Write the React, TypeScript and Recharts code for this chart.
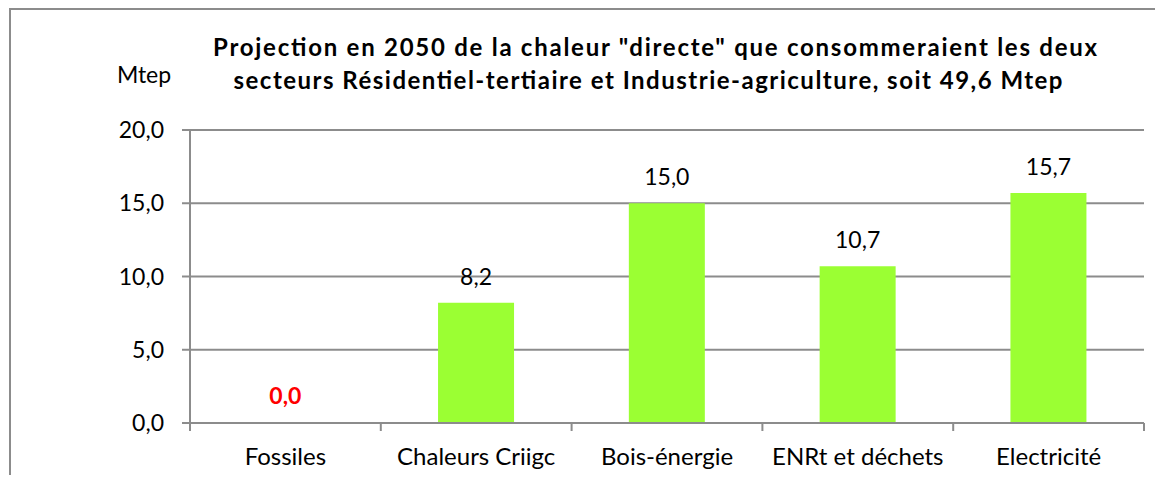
import React from "react";
import { BarChart, Bar, XAxis, YAxis, CartesianGrid, ReferenceDot } from "recharts";

const categories = ["Fossiles", "Chaleurs Criigc", "Bois-énergie", "ENRt et déchets", "Electricité"];
const values = [0.0, 8.2, 15.0, 10.7, 15.7];
const yTicks = [0, 5, 10, 15, 20];
const titleLines = [
  "Projection en 2050 de la chaleur \"directe\" que consommeraient  les deux",
  "secteurs Résidentiel-tertiaire et Industrie-agriculture, soit 49,6 Mtep",
];
const unitLabel = "Mtep";

const data = categories.map((c, i) => ({ name: c, value: values[i] }));

const FONT = "Lato, 'Open Sans', sans-serif";
const GRAY = "#8c8c8c";
const fmt = (v: number) => v.toFixed(1).replace(".", ",");

const XTick = (props: any) => {
  const { x, y, payload, index, width } = props;
  const band = width / categories.length;
  const half = band / 2;
  const top = y - 8;
  return (
    <g>
      <line x1={x - half} x2={x - half} y1={top} y2={top + 8} stroke={GRAY} strokeWidth={2} />
      {index === categories.length - 1 && (
        <line x1={x + half} x2={x + half} y1={top} y2={top + 8} stroke={GRAY} strokeWidth={2} />
      )}
      <text x={x} y={y + 34} textAnchor="middle" fontFamily={FONT} fontSize={24} fill="#000">
        {payload.value}
      </text>
    </g>
  );
};

const ValueLabel = (props: any) => {
  const { x, y, width, value } = props;
  if (Number(value) === 0) return null;
  return (
    <text
      x={Number(x) + Number(width) / 2}
      y={Number(y) - 18}
      textAnchor="middle"
      fontFamily={FONT}
      fontSize={23}
      fill="#000"
    >
      {fmt(Number(value))}
    </text>
  );
};

const ZeroLabel = (props: any) => {
  const vb = props.viewBox || {};
  const cx = Number(vb.x) + Number(vb.width || 0) / 2;
  const cy = Number(vb.y) + Number(vb.height || 0) / 2;
  return (
    <text x={cx} y={cy - 19} textAnchor="middle" fontFamily={FONT} fontSize={23} fontWeight={700} fill="#ff0000">
      {props.text}
    </text>
  );
};

export default function App() {
  return (
    <div style={{ position: "relative", width: 1155, height: 467 }}>
      <div style={{ position: "absolute", left: 0, top: 0 }}>
        <BarChart
          width={1155}
          height={467}
          data={data}
          margin={{ top: 122, right: 19, bottom: 12, left: 0 }}
          barCategoryGap="30%"
        >
          <rect x={1} y={0} width={1154} height={2} fill={GRAY} />
          <text x={647} y={48} textAnchor="middle" fontFamily={FONT} fontSize={24} fontWeight={700} fill="#000" textLength={884} lengthAdjust="spacing">
            {titleLines[0]}
          </text>
          <text x={640} y={81} textAnchor="middle" fontFamily={FONT} fontSize={24} fontWeight={700} fill="#000" textLength={829} lengthAdjust="spacing">
            {titleLines[1]}
          </text>
          <text x={136} y={75} textAnchor="middle" fontFamily={FONT} fontSize={23} fill="#000">
            {unitLabel}
          </text>
          <CartesianGrid vertical={false} stroke={GRAY} strokeWidth={2} />
          <XAxis
            dataKey="name"
            axisLine={{ stroke: GRAY, strokeWidth: 2 }}
            tickLine={false}
            tick={<XTick />}
            height={40}
            interval={0}
          />
          <YAxis
            domain={[0, 20]}
            ticks={yTicks}
            width={182}
            axisLine={{ stroke: GRAY, strokeWidth: 2 }}
            tickLine={{ stroke: GRAY, strokeWidth: 2 }}
            tickSize={8}
            tickMargin={18}
            tickFormatter={fmt}
            tick={{ fontFamily: FONT, fontSize: 23, fill: "#000" }}
          />
          <Bar dataKey="value" fill="#9bff33" isAnimationActive={false} label={<ValueLabel />} />
          {data
            .filter((d) => d.value === 0)
            .map((d) => (
              <ReferenceDot
                key={d.name}
                x={d.name}
                y={d.value}
                r={1}
                fill="none"
                stroke="none"
                ifOverflow="visible"
                label={<ZeroLabel text={fmt(d.value)} />}
              />
            ))}
        </BarChart>
      </div>
      <div style={{ position: "absolute", left: 1, top: -3, width: 1154, height: 2, background: GRAY, zIndex: 3 }} />
      <div style={{ position: "absolute", left: 1, top: -3, width: 2, height: 470, background: GRAY, zIndex: 3 }} />
    </div>
  );
}
